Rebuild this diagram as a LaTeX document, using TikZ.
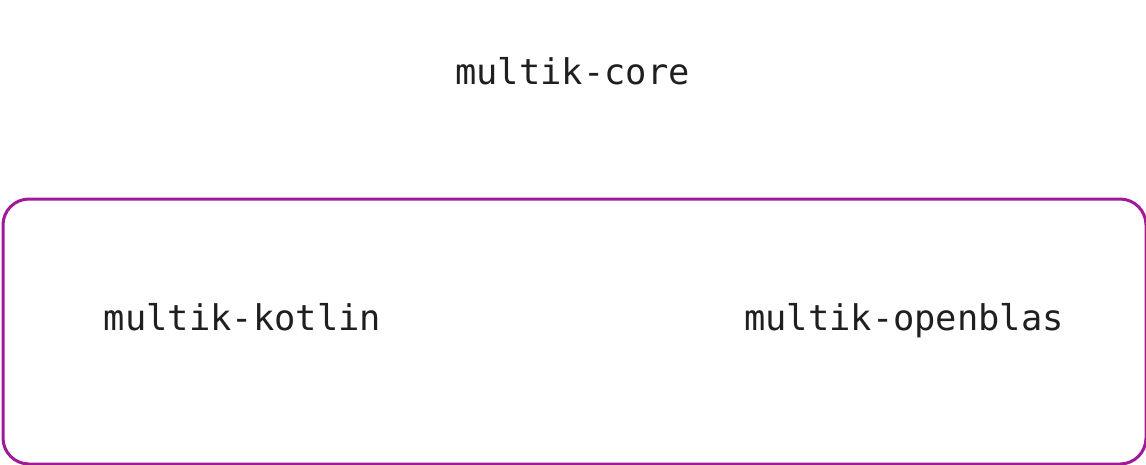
\documentclass[tikz,border=0pt]{standalone}
\usepackage{fontspec}
\setmonofont{DejaVu Sans Mono}
\definecolor{modpurple}{HTML}{A0199A}
\begin{document}
\begin{tikzpicture}[x=1pt,y=-1pt]
\tikzset{mod/.style={font=\ttfamily\fontsize{35.4}{40}\selectfont, text=black!88, anchor=base, inner sep=0pt},
    grp/.style={draw=modpurple, line width=3pt, rounded corners=26pt}}
\useasboundingbox (0,0) rectangle (1146,464);
\node[grp, minimum width=1143pt, minimum height=265pt, anchor=north west] (engines) at (1.5,197.5) {};
\node[mod] (core) at (572.5,84) {multik-core};
\node[mod] (kotlin) at (242.5,330) {multik-kotlin};
\node[mod] (openblas) at (904,330) {multik-openblas};
\end{tikzpicture}
\end{document}
